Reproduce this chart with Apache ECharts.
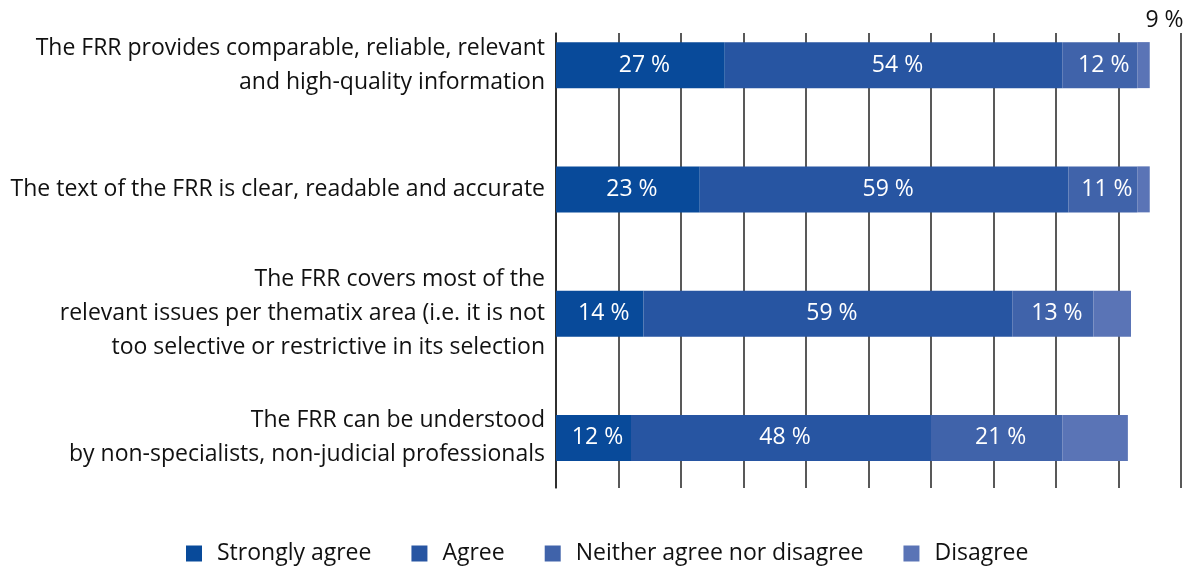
<!DOCTYPE html>
<html><head><meta charset="utf-8">
<script src="https://cdn.jsdelivr.net/npm/echarts@6/dist/echarts.min.js"></script>
<style>html,body{margin:0;padding:0;background:#fff}#c{width:1189px;height:567px}</style>
</head><body><div id="c"></div>
<script>
const categories = [
  'The FRR provides comparable, reliable, relevant\nand high-quality information',
  'The text of the FRR is clear, readable and accurate',
  'The FRR covers most of the\nrelevant issues per thematix area (i.e. it is not\ntoo selective or restrictive in its selection',
  'The FRR can be understood\nby non-specialists, non-judicial professionals'
];
const seriesNames = ['Strongly agree', 'Agree', 'Neither agree nor disagree', 'Disagree'];
const stronglyAgree = [27, 23, 14, 12];
const agree = [54, 59, 59, 48];
const neither = [12, 11, 13, 21];
const disagree = [2, 2, 6, 10.5];
const disagreeLabels = ['9 %', '', '', ''];
const colors = ['#084a9a', '#2755a2', '#4063aa', '#5a74b6'];
const FONT = 'Open Sans';

const chart = echarts.init(document.getElementById('c'));
const valueSeries = [stronglyAgree, agree, neither];
const series = valueSeries.map((vals, i) => ({
  name: seriesNames[i], type: 'bar', stack: 'total', barWidth: 46,
  xAxisIndex: 0, yAxisIndex: 0,
  itemStyle: { color: colors[i] },
  label: { show: true, position: 'inside', offset: [4, 0], color: '#fff', fontSize: 23, fontFamily: FONT,
    formatter: p => p.value + ' %' },
  data: vals
}));
series.push({
  name: seriesNames[3], type: 'bar', stack: 'total', barWidth: 46,
  xAxisIndex: 0, yAxisIndex: 0,
  itemStyle: { color: colors[3] },
  label: { show: true, position: 'top', distance: 10, offset: [21, 0], color: '#111', fontSize: 23, fontFamily: FONT,
    formatter: p => disagreeLabels[p.dataIndex] },
  data: disagree
});
series.push({ type: 'bar', xAxisIndex: 1, yAxisIndex: 1, data: [], silent: true });

chart.setOption({
  animation: false,
  textStyle: { fontFamily: FONT },
  legend: {
    data: seriesNames, bottom: -3, left: 181, itemWidth: 16, itemHeight: 16, itemGap: 40,
    icon: 'rect', textStyle: { fontSize: 23, color: '#111', fontFamily: FONT, padding: [0, 0, 0, 10] }
  },
  grid: [
    { left: 556, right: 8, top: 3, bottom: 67 },
    { left: 556, right: 8, top: 33, bottom: 79 }
  ],
  xAxis: [
    { gridIndex: 0, type: 'value', min: 0, max: 100, interval: 10, show: false },
    { gridIndex: 1, type: 'value', min: 0, max: 100, interval: 10,
      axisLabel: { show: false }, axisLine: { show: false }, axisTick: { show: false },
      splitLine: { show: true, lineStyle: { color: '#222', width: 1.5 } } }
  ],
  yAxis: [
    { gridIndex: 0, type: 'category', inverse: true, data: categories,
      axisLine: { show: false }, axisTick: { show: false },
      axisLabel: { fontSize: 23, color: '#111', margin: 11, lineHeight: 34, align: 'right', fontFamily: FONT } },
    { gridIndex: 1, type: 'category', data: ['a'],
      axisLine: { show: true, lineStyle: { color: '#222', width: 1.5 } }, axisTick: { show: false }, axisLabel: { show: false } }
  ],
  series
});
</script></body></html>
